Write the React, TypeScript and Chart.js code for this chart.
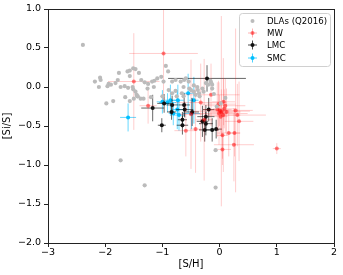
import React, { useEffect, useRef } from "react";
import { Chart, registerables } from "chart.js";

Chart.register(...registerables);

// ---- data ----
const dlaX = [-2.39, -2.18, -2.09, -2.08, -2.11, -1.96, -1.94, -1.9, -1.82, -1.78, -1.76, -1.73, -1.98, -1.86, -1.61, -1.57, -1.57, -1.51, -1.47, -1.41, -1.37, -1.31, -1.25, -1.52, -1.51, -1.47, -1.45, -1.43, -1.5, -1.57, -1.38, -1.33, -1.66, -1.6, -1.26, -1.15, -1.18, -1.14, -1.09, -1.02, -0.98, -0.94, -0.9, -0.83, -0.77, -0.68, -0.62, -0.59, -0.54, -0.89, -1.0, -0.83, -0.77, -0.75, -0.66, -0.63, -0.45, -0.38, -0.3, -0.24, -0.2, -0.39, -0.15, -0.13, -0.16, -0.13, -0.36, -0.35, -0.1, 0.02, 0.1, -0.05, -0.53, -0.45, -0.63, -1.73, -1.31, -0.07, -0.07, -1.65, -1.44, -1.2, -0.28, -0.5, -0.42];
const dlaY = [0.54, 0.07, 0.12, 0.09, 0.0, 0.01, 0.04, 0.03, 0.05, 0.09, 0.18, 0.0, -0.21, -0.18, 0.2, 0.21, 0.14, 0.24, 0.23, 0.18, 0.09, 0.06, 0.04, 0.0, -0.03, -0.06, -0.1, -0.12, -0.15, -0.18, -0.15, -0.15, 0.01, -0.01, -0.02, 0.0, 0.07, 0.08, 0.11, 0.13, 0.07, 0.27, 0.2, 0.07, 0.09, 0.07, 0.09, 0.11, 0.07, -0.04, -0.12, -0.08, -0.05, -0.12, -0.08, -0.12, -0.06, -0.04, -0.02, 0.05, 0.03, 0.0, 0.06, 0.03, 0.08, -0.02, -0.08, -0.12, -0.09, -0.21, -0.14, -0.25, -0.02, 0.02, 0.0, -0.94, -1.26, -1.29, -0.81, -0.13, -0.12, -0.13, -0.06, -0.04, -0.1];

const mwX = [-0.98, -1.5, -1.25, -0.59, -0.42, -0.27, -0.04, -0.01, 0.03, 0.065, 0.03, 0.31, 0.34, 0.16, 0.26, 0.25, 0.05, 1.0, 0.05, -0.15, 0.1, -0.33, 0.07, 0.0, 0.08, 0.12, 0.02, -0.02, 0.28, -0.5];
const mwY = [0.43, 0.07, -0.24, -0.56, -0.54, -0.42, -0.29, -0.34, -0.33, -0.36, -0.31, -0.36, -0.44, -0.59, -0.59, -0.74, -0.8, -0.79, -0.62, -0.1, -0.24, -0.2, -0.19, -0.3, -0.28, -0.32, -0.38, -0.22, -0.3, -0.35];
const mwXerr = [0.6, 0.45, 0.15, 0.2, 0.1, 0.15, 0.25, 0.5, 0.2, 0.3, 0.5, 0.5, 0.25, 0.2, 0.1, 0.35, 0.15, 0.07, 0.1, 0.5, 0.35, 0.45, 0.2, 0.15, 0.2, 0.25, 0.12, 0.3, 0.3, 0.2];
const mwYerr = [0.6, 0.62, 0.23, 0.33, 0.56, 0.78, 0.35, 0.4, 0.3, 0.73, 1.22, 0.4, 0.51, 0.3, 0.3, 0.47, 0.2, 0.07, 0.3, 0.4, 0.35, 0.5, 0.3, 0.2, 0.25, 0.3, 0.2, 0.3, 1.05, 0.7];

const lmcX = [-0.22, -1.17, -0.97, -1.01, -0.83, -0.84, -0.62, -0.61, -0.65, -0.65, -0.48, -0.3, -0.24, -0.19, -0.24, -0.26, -0.13, -0.06];
const lmcY = [0.11, -0.27, -0.21, -0.49, -0.23, -0.32, -0.23, -0.29, -0.42, -0.49, -0.32, -0.44, -0.47, -0.29, -0.38, -0.55, -0.55, -0.54];
const lmcXerr = [0.68, 0.2, 0.12, 0.07, 0.1, 0.08, 0.1, 0.15, 0.08, 0.1, 0.12, 0.1, 0.12, 0.1, 0.15, 0.1, 0.12, 0.1];
const lmcYerr = [0.17, 0.17, 0.12, 0.09, 0.12, 0.1, 0.15, 0.1, 0.1, 0.12, 0.18, 0.2, 0.15, 0.15, 0.15, 0.15, 0.15, 0.12];

const smcX = [-1.6, -1.0, -0.91, -0.86, -0.74, -0.73, -0.55, -0.45, -0.49, -0.81, -0.71];
const smcY = [-0.39, -0.19, -0.2, -0.17, -0.29, -0.17, -0.08, -0.17, -0.34, -0.34, -0.36];
const smcXerr = [0.14, 0.1, 0.15, 0.1, 0.1, 0.1, 0.1, 0.08, 0.15, 0.08, 0.1];
const smcYerr = [0.18, 0.15, 0.12, 0.2, 0.25, 0.2, 0.25, 0.3, 0.2, 0.15, 0.2];

const legendLabels = ["DLAs (Q2016)", "MW", "LMC", "SMC"];
const xTitle = "[S/H]";
const yTitle = "[Si/S]";

const MINUS = "\u2212";
const fmt = (v: number, d: number) => (v < 0 ? MINUS : "") + Math.abs(v).toFixed(d);

const zip = (xs: number[], ys: number[]) => xs.map((x, i) => ({ x, y: ys[i] }));

const FONT = "'DejaVu Sans', sans-serif";

export default function App() {
  const ref = useRef<HTMLCanvasElement>(null);
  useEffect(() => {
    document.body.style.margin = "0";
    const ctx = ref.current!.getContext("2d")!;

    const errSets: any[] = [
      null,
      { xe: mwXerr, ye: mwYerr, color: "rgba(255,0,0,0.2)" },
      { xe: lmcXerr, ye: lmcYerr, color: "rgba(0,0,0,0.6)" },
      { xe: smcXerr, ye: smcYerr, color: "rgba(0,191,255,0.6)" },
    ];

    const errPlugin = {
      id: "errbars",
      beforeDatasetDraw(chart: any, args: any) {
        const es = errSets[args.index];
        if (!es) return;
        const xs = chart.scales.x, ys = chart.scales.y;
        const c = chart.ctx;
        const data = chart.data.datasets[args.index].data;
        c.save();
        const a = chart.chartArea;
        c.beginPath();
        c.rect(a.left, a.top, a.right - a.left, a.bottom - a.top);
        c.clip();
        c.strokeStyle = es.color;
        c.lineWidth = 1;
        data.forEach((p: any, i: number) => {
          const px = xs.getPixelForValue(p.x), py = ys.getPixelForValue(p.y);
          const x0 = xs.getPixelForValue(p.x - es.xe[i]), x1 = xs.getPixelForValue(p.x + es.xe[i]);
          const y0 = ys.getPixelForValue(p.y - es.ye[i]), y1 = ys.getPixelForValue(p.y + es.ye[i]);
          c.beginPath();
          c.moveTo(x0, py); c.lineTo(x1, py);
          c.moveTo(px, y0); c.lineTo(px, y1);
          c.stroke();
        });
        c.restore();
      },
    };

    const framePlugin = {
      id: "frame",
      afterDraw(chart: any) {
        const c = chart.ctx;
        const a = chart.chartArea;
        c.save();
        c.strokeStyle = "#222";
        c.lineWidth = 1;
        c.strokeRect(Math.round(a.left) + 0.5, Math.round(a.top) + 0.5, Math.round(a.right - a.left), Math.round(a.bottom - a.top));
        // legend
        const lx = 239, ly = 13, lw = 91, lh = 53;
        c.beginPath();
        (c as any).roundRect(lx + 0.5, ly + 0.5, lw, lh, 3);
        c.fillStyle = "rgba(255,255,255,0.85)";
        c.fill();
        c.strokeStyle = "#d0d0d0";
        c.stroke();
        const rows = [21, 33, 45, 58];
        const cols = ["#bbbbbb", "rgba(255,0,0,0.5)", "#111", "#00bfff"];
        const lines = [null, "rgba(255,0,0,0.3)", "rgba(0,0,0,0.7)", "rgba(0,191,255,0.7)"];
        const mx = 252.5;
        c.font = `8.6px ${FONT}`;
        c.textBaseline = "middle";
        c.textAlign = "left";
        legendLabels.forEach((lab, i) => {
          const y = rows[i];
          if (lines[i]) {
            c.strokeStyle = lines[i] as string;
            c.beginPath();
            c.moveTo(mx - 4.5, y); c.lineTo(mx + 4.5, y);
            c.moveTo(mx, y - 4.5); c.lineTo(mx, y + 4.5);
            c.stroke();
          }
          c.fillStyle = cols[i];
          c.beginPath();
          c.arc(mx, y, 2, 0, Math.PI * 2);
          c.fill();
          c.fillStyle = "#000";
          c.fillText(lab, 267, y + 0.5);
        });
        c.restore();
      },
    };

    const chart = new Chart(ctx, {
      type: "scatter",
      data: {
        datasets: [
          { label: legendLabels[0], data: zip(dlaX, dlaY), backgroundColor: "#bbbbbb", borderWidth: 0, pointRadius: 2.1 },
          { label: legendLabels[1], data: zip(mwX, mwY), backgroundColor: "rgba(255,0,0,0.5)", borderWidth: 0, pointRadius: 2 },
          { label: legendLabels[2], data: zip(lmcX, lmcY), backgroundColor: "#111111", borderWidth: 0, pointRadius: 2 },
          { label: legendLabels[3], data: zip(smcX, smcY), backgroundColor: "#00bfff", borderWidth: 0, pointRadius: 2 },
        ],
      },
      options: {
        animation: false,
        responsive: false,
        maintainAspectRatio: false,
        layout: { padding: { top: 9, right: 9, left: 0, bottom: 0 } },
        plugins: { legend: { display: false }, tooltip: { enabled: false } },
        scales: {
          x: {
            type: "linear",
            min: -3,
            max: 2,
            afterFit: (s: any) => { s.height = 32; },
            ticks: { stepSize: 1, color: "#000", font: { family: FONT, size: 9.5 }, padding: 0, callback: (v: any) => fmt(Number(v), 0) },
            grid: { display: true, drawOnChartArea: false, drawTicks: true, tickLength: 4, color: "#222" },
            border: { display: false },
            title: { display: true, text: xTitle, color: "#000", font: { family: FONT, size: 10 }, padding: { top: 0, bottom: 5 } },
          },
          y: {
            type: "linear",
            min: -2,
            max: 1,
            afterFit: (s: any) => { s.width = 48; },
            ticks: { stepSize: 0.5, color: "#000", font: { family: FONT, size: 9.5 }, padding: 3, callback: (v: any) => fmt(Number(v), 1) },
            grid: { display: true, drawOnChartArea: false, drawTicks: true, tickLength: 4, color: "#222" },
            border: { display: false },
            title: { display: true, text: yTitle, color: "#000", font: { family: FONT, size: 10 }, padding: { top: 1, bottom: 0 } },
          },
        },
      },
      plugins: [errPlugin, framePlugin],
    } as any);
    return () => chart.destroy();
  }, []);
  return <canvas ref={ref} width={343} height={275} style={{ display: "block" }} />;
}
